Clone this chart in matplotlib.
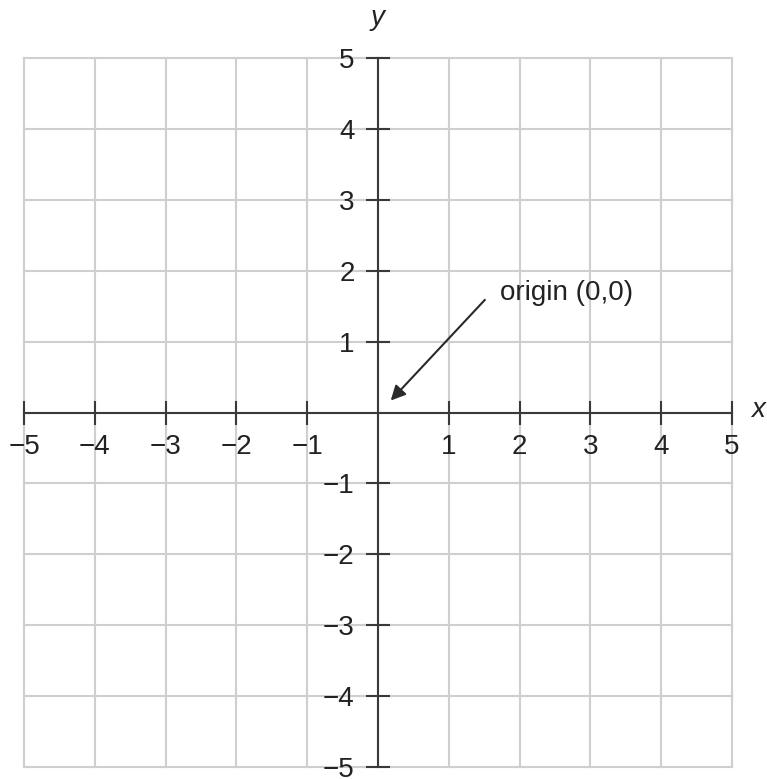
import numpy as np
import matplotlib.pyplot as plt

plt.rcParams['font.family'] = ['Liberation Sans', 'DejaVu Sans']

# tick values and labels
ticks = [-5, -4, -3, -2, -1, 1, 2, 3, 4, 5]
tick_labels = ['\u22125', '\u22124', '\u22123', '\u22122', '\u22121', '1', '2', '3', '4', '5']
grid_vals = list(range(-5, 6))
origin_text = 'origin (0,0)'

fig = plt.figure(figsize=(7.67, 7.79), dpi=100)
ax = fig.add_axes([0.0313, 0.0154, 0.923, 0.910])
ax.set_xlim(-5, 5)
ax.set_ylim(-5, 5)

# light grid, including outer border
for g in grid_vals:
    ax.plot([g, g], [-5, 5], color='#cfcfcf', lw=1.5, clip_on=False, zorder=1)
    ax.plot([-5, 5], [g, g], color='#cfcfcf', lw=1.5, clip_on=False, zorder=1)

# axes through the origin
ax.spines['left'].set_position('zero')
ax.spines['bottom'].set_position('zero')
ax.spines['right'].set_visible(False)
ax.spines['top'].set_visible(False)
for s in ['left', 'bottom']:
    ax.spines[s].set_color('#3a3a3a')
    ax.spines[s].set_linewidth(1.5)
    ax.spines[s].set_zorder(3)
ax.set_xticks(ticks)
ax.set_yticks(ticks)
ax.tick_params(direction='inout', length=17, width=1.5, color='#3a3a3a',
               labelbottom=False, labelleft=False)

# tick labels
for t, lab in zip(ticks, tick_labels):
    ax.text(t, -0.49, lab, ha='center', va='center', fontsize=20, color='#222222')
    ax.text(-0.33, t - 0.04, lab, ha='right', va='center', fontsize=20, color='#222222')

# axis names
ax.text(0.0, 5.56, 'y', ha='center', va='center', fontsize=20, style='italic',
        color='#222222', clip_on=False)
ax.text(5.37, 0.03, 'x', ha='center', va='center', fontsize=20, style='italic',
        color='#222222', clip_on=False)

# origin annotation
ax.annotate('', xy=(0.18, 0.17), xytext=(1.51, 1.59),
            arrowprops=dict(arrowstyle='-|>', mutation_scale=22, lw=1.5,
                            color='#2a2a2a', shrinkA=0, shrinkB=0))
ax.text(1.72, 1.68, origin_text, ha='left', va='center', fontsize=20, color='#222222')

fig.savefig('out.png', dpi=100)
